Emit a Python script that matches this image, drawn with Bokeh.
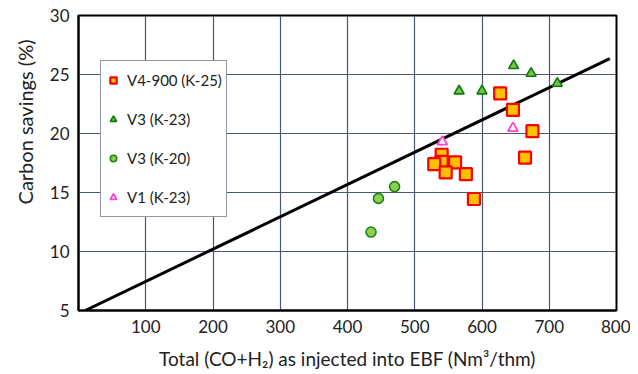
from bokeh.plotting import figure
from bokeh.models import FixedTicker, Range1d, Legend, LegendItem, Title
from bokeh.embed import file_html
from bokeh.resources import INLINE

# Data
sq_x = [627, 646, 675, 664, 540, 540, 529, 560, 546, 576, 588]
sq_y = [23.4, 22.0, 20.2, 17.95, 18.2, 17.6, 17.4, 17.55, 16.7, 16.55, 14.45]

tri_x = [647, 673, 712, 566, 600]
tri_y = [25.75, 25.1, 24.25, 23.6, 23.6]

cir_x = [470, 446, 435]
cir_y = [15.5, 14.5, 11.65]

v1_x = [646, 541]
v1_y = [20.45, 19.3]

line_x = [10, 790]
line_y = [5.0, 26.35]

x_ticks = [100, 200, 300, 400, 500, 600, 700, 800]
y_ticks = [5, 10, 15, 20, 25, 30]

FONT = "Lato"

p = figure(width=630, height=366, output_backend="svg", toolbar_location=None,
           x_range=Range1d(0, 800), y_range=Range1d(5, 30),
           frame_width=538, frame_height=295,
           min_border_left=78, min_border_right=14, min_border_top=15, min_border_bottom=56)
p.background_fill_color = "white"
p.border_fill_color = "white"
p.outline_line_color = "black"
p.outline_line_width = 2

for ax in (p.xaxis[0], p.yaxis[0]):
    ax.axis_line_color = "black"
    ax.axis_line_width = 2
    ax.major_tick_in = 0
    ax.major_tick_out = 0
    ax.minor_tick_line_color = None
    ax.major_label_text_font = FONT
    ax.major_label_text_font_size = "17px"
    ax.major_label_text_color = "#222222"
    ax.axis_label_text_font = FONT
    ax.axis_label_text_font_style = "normal"
    ax.axis_label_text_color = "#222222"

p.xaxis.axis_label_text_font_size = "19px"
p.xaxis.ticker = FixedTicker(ticks=x_ticks)
p.yaxis.ticker = FixedTicker(ticks=y_ticks)
p.xaxis.major_label_standoff = 9
p.yaxis.major_label_standoff = 9
p.xaxis.axis_label = "Total (CO+H\u2082) as injected into EBF (Nm\u00b3/thm)"
p.xaxis.axis_label_standoff = 11

ytitle = Title(text="Carbon savings (%)", align="right", offset=24,
               text_font=FONT, text_font_size="20px", text_font_style="normal",
               text_color="#222222", standoff=20)
p.add_layout(ytitle, "left")

p.xgrid.grid_line_color = "#4a5870"
p.ygrid.grid_line_color = "#4a5870"
p.xgrid.grid_line_width = 1.2
p.ygrid.grid_line_width = 1.2

p.line(line_x, line_y, line_color="black", line_width=3)

r_sq = p.scatter(sq_x, sq_y, marker="square", size=12, fill_color="#ffc000",
                 line_color="#ff0000", line_width=2.2)
r_tri = p.scatter(tri_x, tri_y, marker="triangle", size=10, fill_color="#7cc04a",
                  line_color="#0a7a0a", line_width=1.6)
r_cir = p.scatter(cir_x, cir_y, marker="circle", size=10, fill_color="#8fce4f",
                  line_color="#1a861a", line_width=1.6)
r_v1 = p.scatter(v1_x, v1_y, marker="triangle", size=10, fill_color="white",
                 line_color="#ff40d0", line_width=1.8)

legend = Legend(items=[
    LegendItem(label="V4-900 (K-25)", renderers=[r_sq]),
    LegendItem(label="V3 (K-23)", renderers=[r_tri]),
    LegendItem(label="V3 (K-20)", renderers=[r_cir]),
    LegendItem(label="V1 (K-23)", renderers=[r_v1]),
], location=(22, 93))
legend.label_text_font = FONT
legend.label_text_font_size = "15px"
legend.label_text_color = "#222222"
legend.border_line_color = "#1f2d4a"
legend.border_line_width = 1.5
legend.background_fill_color = "white"
legend.background_fill_alpha = 1
legend.padding = 4
legend.margin = 0
legend.glyph_width = 16
legend.glyph_height = 30
legend.label_height = 30
legend.label_standoff = 6
legend.spacing = 9
p.add_layout(legend, "center")

open("out.html", "w").write(file_html(p, INLINE))
